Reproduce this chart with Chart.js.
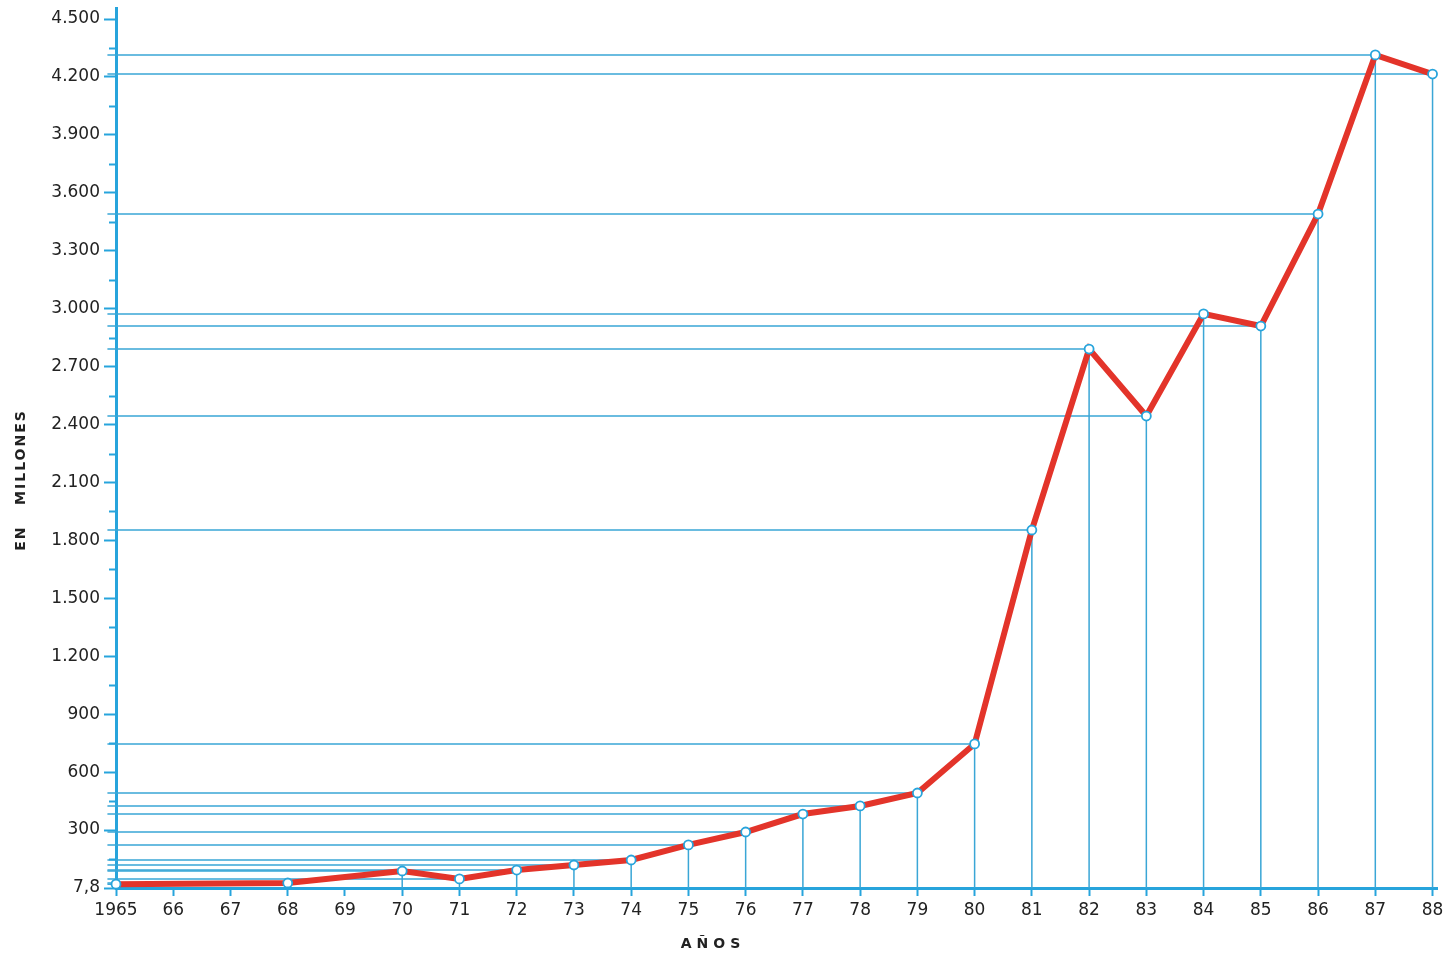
<!DOCTYPE html>
<html><head><meta charset="utf-8">
<script src="https://cdn.jsdelivr.net/npm/chart.js@4"></script>
<style>html,body{margin:0;padding:0;background:#fff}#wrap{width:1444px;height:953px;position:relative}</style>
</head><body><div id="wrap"><canvas id="c"></canvas></div>
<script>
const years  = [1965, 1968, 1970, 1971, 1972, 1973, 1974, 1975, 1976, 1977, 1978, 1979, 1980, 1981, 1982, 1983, 1984, 1985, 1986, 1987, 1988];
const values = [20, 26, 88, 47, 93, 119, 145, 223, 290, 383, 425, 492, 746, 1854, 2791, 2444, 2973, 2910, 3490, 4314, 4215];

const xTickValues = [1965,1966,1967,1968,1969,1970,1971,1972,1973,1974,1975,1976,1977,1978,1979,1980,1981,1982,1983,1984,1985,1986,1987,1988];
const xTickLabels = ['1965','66','67','68','69','70','71','72','73','74','75','76','77','78','79','80','81','82','83','84','85','86','87','88'];
const yTickValues = [0,300,600,900,1200,1500,1800,2100,2400,2700,3000,3300,3600,3900,4200,4500];
const yTickLabels = ['7,8','300','600','900','1.200','1.500','1.800','2.100','2.400','2.700','3.000','3.300','3.600','3.900','4.200','4.500'];
const yMinorTickValues = [150,450,750,1050,1350,1650,1950,2250,2550,2850,3150,3450,3750,4050,4350];

const xTitle = 'AÑOS';
const yTitle = 'EN   MILLONES';

const BLUE = '#27a4dc';
const GUIDE = '#3aa6d6';
const FONT = "'DejaVu Sans', sans-serif";

// guide lines: from y-axis horizontally to each point, then down to the x-axis
const guideSets = years.map((yr, i) => ({
  type: 'line',
  data: [{x: 1964.85, y: values[i]}, {x: yr, y: values[i]}, {x: yr, y: 0}],
  borderColor: GUIDE,
  borderWidth: 1.5,
  pointRadius: 0,
  fill: false,
  tension: 0,
  clip: false,
  order: 2
}));

const mainSet = {
  type: 'line',
  data: years.map((yr, i) => ({x: yr, y: values[i]})),
  borderColor: '#e3342a',
  borderWidth: 6,
  pointRadius: 4.5,
  pointBackgroundColor: '#ffffff',
  pointBorderColor: BLUE,
  pointBorderWidth: 1.8,
  tension: 0,
  clip: false,
  order: 1
};

const extras = {
  id: 'extras',
  afterDraw(chart) {
    const ctx = chart.ctx;
    const ys = chart.scales.y;
    const left = chart.chartArea.left;
    ctx.save();
    ctx.strokeStyle = BLUE;
    ctx.lineWidth = 2;
    yMinorTickValues.forEach(v => {
      const p = Math.round(ys.getPixelForValue(v)) + 0.5;
      ctx.beginPath(); ctx.moveTo(left - 7, p); ctx.lineTo(left, p); ctx.stroke();
    });
    // titles
    ctx.fillStyle = '#222';
    ctx.font = "600 14px " + FONT;
    ctx.textAlign = 'center';
    ctx.textBaseline = 'middle';
    ctx.letterSpacing = '5px';
    ctx.fillText(xTitle, 713, 944);
    ctx.translate(21, 480);
    ctx.rotate(-Math.PI / 2);
    ctx.letterSpacing = '2px';
    ctx.fillText(yTitle, 0, 0);
    ctx.restore();
  }
};

new Chart(document.getElementById('c'), {
  type: 'line',
  data: { datasets: [...guideSets, mainSet] },
  options: {
    responsive: true,
    maintainAspectRatio: false,
    animation: false,
    layout: { padding: { top: 8, right: 0, left: 0, bottom: 0 } },
    plugins: { legend: { display: false }, tooltip: { enabled: false } },
    scales: {
      x: {
        type: 'linear',
        min: 1965,
        max: 1988.09,
        afterBuildTicks: s => { s.ticks = xTickValues.map(v => ({value: v})); },
        afterFit: s => { s.height = 65; s.paddingLeft = 0; s.paddingRight = 0; },
        ticks: {
          autoSkip: false,
          maxRotation: 0,
          padding: 4,
          color: '#222',
          font: { family: FONT, size: 17 },
          callback: (v) => { const i = xTickValues.indexOf(v); return i >= 0 ? xTickLabels[i] : ''; }
        },
        grid: { drawOnChartArea: false, drawTicks: true, tickLength: 8, tickColor: BLUE, tickWidth: 2 },
        border: { display: true, color: BLUE, width: 3 }
      },
      y: {
        type: 'linear',
        min: 0,
        max: 4557,
        afterBuildTicks: s => { s.ticks = yTickValues.map(v => ({value: v})); },
        afterFit: s => { s.width = 116; s.paddingTop = 0; s.paddingBottom = 0; },
        ticks: {
          autoSkip: false,
          padding: 4,
          color: '#222',
          font: { family: FONT, size: 17 },
          callback: (v) => { const i = yTickValues.indexOf(v); return i >= 0 ? yTickLabels[i] : ''; }
        },
        grid: { drawOnChartArea: false, drawTicks: true, tickLength: 12, tickColor: BLUE, tickWidth: 2 },
        border: { display: true, color: BLUE, width: 3 }
      }
    }
  },
  plugins: [extras]
});
</script>
</body></html>
